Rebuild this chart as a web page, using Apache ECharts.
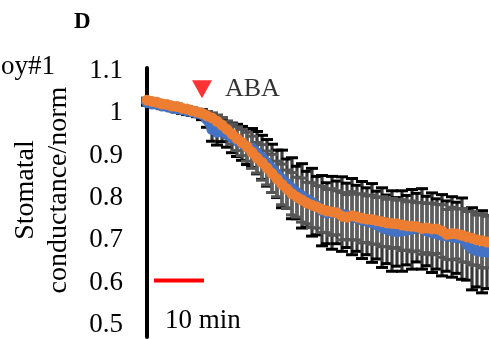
<!DOCTYPE html>
<html>
<head>
<meta charset="utf-8">
<script src="https://cdn.jsdelivr.net/npm/echarts@6/dist/echarts.min.js"></script>
<style>
  html, body { margin: 0; padding: 0; background: #fff; }
  #chart { width: 489px; height: 339px; }
</style>
</head>
<body>
<div id="chart"></div>
<script>
// Time after start of recording (min)
const minutes = [0,1,2,3,4,5,6,7,8,9,10,11,12,13,14,15,16,17,18,19,20,21,22,23,24,25,26,27,28,29,30,31,32,33,34,35,36,37,38,39,40,41,42,43,44,45,46,47,48,49,50,51,52,53,54,55,56,57,58,59,60,61,62,63,64,65,66,67,68];

// Normalised stomatal conductance, orange line, mean and error
const orangeMean = [1.031,1.028,1.026,1.022,1.021,1.017,1.016,1.012,1.010,1.006,1.003,1.000,0.994,0.989,0.981,0.972,0.962,0.951,0.940,0.931,0.921,0.908,0.895,0.884,0.871,0.858,0.845,0.832,0.821,0.810,0.802,0.795,0.788,0.783,0.779,0.773,0.769,0.767,0.765,0.757,0.755,0.758,0.755,0.752,0.750,0.749,0.746,0.744,0.741,0.740,0.739,0.736,0.734,0.733,0.732,0.728,0.729,0.727,0.727,0.722,0.714,0.716,0.715,0.712,0.708,0.705,0.701,0.699,0.696];
const orangeErr = [0.005,0.005,0.005,0.005,0.005,0.005,0.006,0.006,0.006,0.007,0.007,0.008,0.010,0.012,0.015,0.018,0.020,0.024,0.028,0.031,
  0.034,0.038,0.036,0.042,0.040,0.045,0.042,0.048,0.045,0.050,0.047,0.052,0.049,0.053,0.050,0.054,0.051,0.055,0.052,0.056,0.053,0.057,0.054,0.058,0.055,0.058,0.055,0.059,0.056,0.059,0.056,0.060,0.057,0.060,0.057,0.061,0.058,0.061,0.058,0.062,0.059,0.062,0.059,0.063,0.060,0.063,0.060,0.064,0.061];

// Normalised stomatal conductance, blue line, mean and error
const blueMean = [1.025,1.022,1.021,1.017,1.016,1.012,1.011,1.008,1.005,1.003,1.000,0.997,0.985,0.962,0.955,0.958,0.950,0.942,0.936,0.929,0.921,0.918,0.907,0.896,0.883,0.870,0.857,0.845,0.834,0.823,0.813,0.805,0.797,0.790,0.782,0.770,0.764,0.765,0.766,0.762,0.759,0.756,0.752,0.748,0.745,0.741,0.736,0.730,0.726,0.722,0.720,0.722,0.724,0.726,0.730,0.727,0.722,0.718,0.715,0.712,0.710,0.708,0.706,0.704,0.690,0.680,0.675,0.673,0.672];
const blueErr = [0.006,0.006,0.006,0.006,0.006,0.006,0.008,0.008,0.008,0.008,0.008,0.012,0.018,0.028,0.030,0.025,0.030,0.035,0.038,0.040,0.042,0.046,0.050,0.052,0.055,0.057,
  0.056,0.068,0.058,0.072,0.062,0.076,0.066,0.080,0.069,0.083,0.072,0.086,0.074,0.088,0.076,0.090,0.078,0.091,0.079,0.093,0.080,0.094,0.081,0.095,0.081,0.095,0.082,0.094,0.081,0.095,0.082,0.094,0.083,0.096,0.083,0.095,0.084,0.096,0.084,0.097,0.085,0.097,0.086];

// Axis labels
const yTicks = [0.5, 0.6, 0.7, 0.8, 0.9, 1, 1.1];

// ABA application point and 10-min scale bar (data units)
const abaPoint = [11, 1.057];
const scaleBar = [[1.4, 0.605], [11.4, 0.605]];

const serif = '"Liberation Serif", "Times New Roman", serif';

function errorBars(means, errs, stemColor, capColor, z) {
  return {
    type: 'custom',
    silent: true,
    z: z,
    clip: false,
    data: minutes.map((t, i) => [t, means[i] - errs[i], means[i] + errs[i]]),
    encode: { x: 0, y: [1, 2] },
    renderItem(params, api) {
      const lo = api.coord([api.value(0), api.value(1)]);
      const hi = api.coord([api.value(0), api.value(2)]);
      const hw = 6;
      return {
        type: 'group',
        children: [
          { type: 'line', shape: { x1: lo[0], y1: lo[1], x2: hi[0], y2: hi[1] },
            style: { stroke: stemColor, lineWidth: 3.2 } },
          { type: 'line', shape: { x1: lo[0] - hw, y1: lo[1], x2: lo[0] + hw, y2: lo[1] },
            style: { stroke: capColor, lineWidth: 3 } },
          { type: 'line', shape: { x1: hi[0] - hw, y1: hi[1], x2: hi[0] + hw, y2: hi[1] },
            style: { stroke: capColor, lineWidth: 3 } }
        ]
      };
    }
  };
}

function meanLine(means, color, z) {
  return {
    type: 'line',
    z: z,
    silent: true,
    data: minutes.map((t, i) => [t, means[i]]),
    symbol: 'circle',
    symbolSize: 11,
    showSymbol: true,
    itemStyle: { color: color, borderWidth: 0 },
    lineStyle: { color: color, width: 9 }
  };
}

const chart = echarts.init(document.getElementById('chart'), null, { renderer: 'canvas' });

chart.setOption({
  animation: false,
  backgroundColor: '#fff',
  grid: { left: 147, right: 0, top: 68, bottom: 2, containLabel: false },
  xAxis: {
    type: 'value',
    min: 0,
    max: 68.4,
    show: false
  },
  yAxis: {
    type: 'value',
    min: 0.4717,
    max: 1.107,
    splitLine: { show: false },
    axisTick: { show: false },
    axisLine: { show: true, onZero: false, lineStyle: { color: '#000', width: 4 } },
    axisLabel: {
      customValues: yTicks,
      margin: 24,
      color: '#000',
      fontSize: 27,
      fontFamily: serif,
      formatter: v => String(Math.round(v * 10) / 10)
    }
  },
  series: [
    errorBars(blueMean, blueErr, '#3a3a3a', '#000', 2),
    errorBars(orangeMean, orangeErr, '#5f5f5f', '#555', 3),
    meanLine(blueMean, '#4472C4', 4),
    meanLine(orangeMean, '#ED7D31', 5),
    {
      type: 'line',
      z: 6,
      silent: true,
      data: scaleBar,
      symbol: 'none',
      lineStyle: { color: '#ff0000', width: 4 }
    },
    {
      type: 'scatter',
      z: 6,
      silent: true,
      data: [abaPoint],
      symbol: 'triangle',
      symbolRotate: 180,
      symbolSize: [20, 18],
      itemStyle: { color: '#ff0000' },
      label: {
        show: true,
        position: 'right',
        distance: 13,
        formatter: 'ABA',
        color: '#000',
        fontSize: 26,
        fontFamily: serif
      }
    }
  ],
  graphic: [
    {
      type: 'text', left: 74, top: 11,
      style: { text: 'D', font: 'bold 23px ' + serif, fill: '#000' }
    },
    {
      type: 'text', x: 55, y: 67,
      style: { text: 'oy#1', font: '27px ' + serif, fill: '#000', align: 'right', verticalAlign: 'middle' }
    },
    {
      type: 'text', x: 42, y: 190, rotation: Math.PI / 2,
      style: {
        text: 'Stomatal\nconductance/norm',
        font: '28px ' + serif,
        lineHeight: 33,
        fill: '#000',
        align: 'center',
        verticalAlign: 'middle'
      }
    },
    {
      type: 'text', x: 165, y: 321,
      style: { text: '10 min', font: '27px ' + serif, fill: '#000', align: 'left', verticalAlign: 'middle' }
    }
  ]
});
</script>
</body>
</html>
